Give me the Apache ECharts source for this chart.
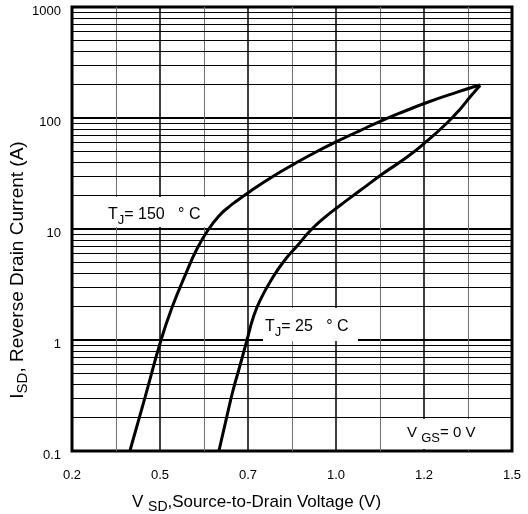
<!DOCTYPE html>
<html><head><meta charset="utf-8">
<script src="https://cdn.jsdelivr.net/npm/echarts@6/dist/echarts.min.js"></script>
<style>html,body{margin:0;padding:0;background:#fff}#c{width:528px;height:514px}</style>
</head><body><div id="c"></div>
<script>
// X axis: linear, 0.2 V .. 1.5 V, grid every 0.13 V, labels every other line
const X_START = 0.2;
const X_END = 1.5;
const X_GRID_STEP = 0.13;
// Y axis: log, 0.1 .. 1000 A
const yTickLabels = ['0.1', '1', '10', '100', '1000'];
const Y_MIN = 0.1, Y_MAX = 1000;
const decades = [0.1, 1, 10, 100];
const minorMultipliers = [2, 3, 4, 5, 6, 7, 8, 9];

// T_J = 150 °C
const vsd150 = [0.371, 0.416, 0.463, 0.496, 0.537, 0.569, 0.602, 0.637, 0.661, 0.682, 0.726, 0.791, 0.859, 0.918, 0.986, 1.051, 1.119, 1.184, 1.249, 1.338, 1.385, 1.406];
const isd150 = [0.1, 0.306, 1, 1.98, 4.0, 6.6, 9.8, 13.4, 15.6, 17.5, 21.8, 29.4, 38.9, 48.9, 62.1, 77.1, 95.9, 115.6, 138, 171, 190, 198];
// T_J = 25 °C
const vsd25 = [0.634, 0.655, 0.676, 0.696, 0.717, 0.735, 0.756, 0.794, 0.829, 0.865, 0.903, 0.945, 0.986, 1.051, 1.119, 1.190, 1.249, 1.308, 1.346, 1.376, 1.394, 1.406];
const isd25 = [0.1, 0.19, 0.354, 0.583, 1, 1.58, 2.29, 3.69, 5.26, 7.03, 9.6, 12.6, 15.8, 22.2, 31.6, 44.5, 62.1, 90.2, 119.3, 154.6, 178.7, 196];

const FONT = 'Liberation Sans, Arial, Helvetica, sans-serif';
const minorY = [];
decades.forEach(d => minorMultipliers.forEach(m => minorY.push(+(d * m).toPrecision(3))));

const toXY = (vs, is) => vs.map((v, i) => [v - X_START, is[i]]);

const chart = echarts.init(document.getElementById('c'), null, {renderer: 'canvas'});
chart.setOption({
  animation: false,
  backgroundColor: '#fff',
  grid: {left: 72, right: 16, top: 7, bottom: 63, show: true, borderColor: '#000', borderWidth: 3, backgroundColor: 'transparent'},
  xAxis: {
    type: 'value', min: 0, max: +(X_END - X_START).toFixed(2), interval: 2 * X_GRID_STEP,
    axisLine: {show: false}, axisTick: {show: false},
    axisLabel: {formatter: v => (v + X_START).toFixed(1), margin: 18, fontSize: 13, color: '#000', fontFamily: FONT},
    splitLine: {show: true, lineStyle: {color: '#000', width: 1.5}},
    minorTick: {show: false, splitNumber: 2},
    minorSplitLine: {show: true, lineStyle: {color: '#707070', width: 1}}
  },
  yAxis: {
    type: 'log', logBase: 10, min: Y_MIN, max: Y_MAX,
    axisLine: {show: false}, axisTick: {show: false},
    axisLabel: {formatter: v => '{a|' + yTickLabels[Math.round(Math.log10(v)) + 1] + '}', margin: 11,
      rich: {a: {fontSize: 13, color: '#000', fontFamily: FONT, padding: [9, 0, 0, 0]}}},
    splitLine: {show: true, lineStyle: {color: '#000', width: 2}}
  },
  series: [
    {type: 'line', data: [], z: 1, silent: true,
     markLine: {silent: true, symbol: ['none', 'none'], label: {show: false},
       lineStyle: {color: '#000', width: 1, type: 'solid'}, emphasis: {disabled: true},
       data: minorY.map(v => ({yAxis: v}))}},
    {type: 'line', name: 'TJ=150', data: toXY(vsd150, isd150), showSymbol: false, smooth: 0.5, z: 5,
     lineStyle: {color: '#000', width: 3}},
    {type: 'line', name: 'TJ=25', data: toXY(vsd25, isd25), showSymbol: false, smooth: 0.5, z: 5,
     lineStyle: {color: '#000', width: 3}}
  ],
  graphic: {elements: [
    {type: 'rect', z: 3, shape: {x: 74, y: 197, width: 132, height: 30}, style: {fill: '#fff'}},
    {type: 'rect', z: 3, shape: {x: 263, y: 308, width: 95, height: 33}, style: {fill: '#fff'}},
    {type: 'rect', z: 3, shape: {x: 384, y: 419, width: 125, height: 30}, style: {fill: '#fff'}},
    {type: 'text', z: 4, x: 108, y: 215, style: {text: '{n|T}{s|J}{n|= 150   ° C}', align: 'left', verticalAlign: 'middle', textAlign: 'left', textVerticalAlign: 'middle',
      rich: {n: {fontSize: 16, fontFamily: FONT, fill: '#000'}, s: {fontSize: 13, fontFamily: FONT, fill: '#000', padding: [10, 0, 0, 0], backgroundColor: '#fff'}}}},
    {type: 'text', z: 4, x: 265, y: 327, style: {text: '{n|T}{s|J}{n|= 25   ° C}', align: 'left', verticalAlign: 'middle', textAlign: 'left', textVerticalAlign: 'middle',
      rich: {n: {fontSize: 16, fontFamily: FONT, fill: '#000'}, s: {fontSize: 13, fontFamily: FONT, fill: '#000', padding: [10, 0, 0, 0], backgroundColor: '#fff'}}}},
    {type: 'text', z: 4, x: 407, y: 433, style: {text: '{n|V }{s|GS}{n|= 0 V}', align: 'left', verticalAlign: 'middle', textAlign: 'left', textVerticalAlign: 'middle',
      rich: {n: {fontSize: 15, fontFamily: FONT, fill: '#000'}, s: {fontSize: 13, fontFamily: FONT, fill: '#000', padding: [10, 0, 0, 0]}}}},
    {type: 'text', z: 4, x: 132, y: 502, style: {text: '{n|V }{s|SD}{n|,Source-to-Drain Voltage (V)}', align: 'left', verticalAlign: 'middle', textAlign: 'left', textVerticalAlign: 'middle',
      rich: {n: {fontSize: 17, fontFamily: FONT, fill: '#000'}, s: {fontSize: 14, fontFamily: FONT, fill: '#000', padding: [10, 0, 0, 0]}}}},
    {type: 'text', z: 4, x: 18, y: 270, rotation: Math.PI / 2, style: {text: '{n|I}{s|SD}{n|, Reverse Drain Current (A)}', align: 'center', verticalAlign: 'middle', textAlign: 'center', textVerticalAlign: 'middle',
      rich: {n: {fontSize: 19, fontFamily: FONT, fill: '#000'}, s: {fontSize: 15, fontFamily: FONT, fill: '#000', padding: [10, 0, 0, 0]}}}}
  ]}
});
</script></body></html>
